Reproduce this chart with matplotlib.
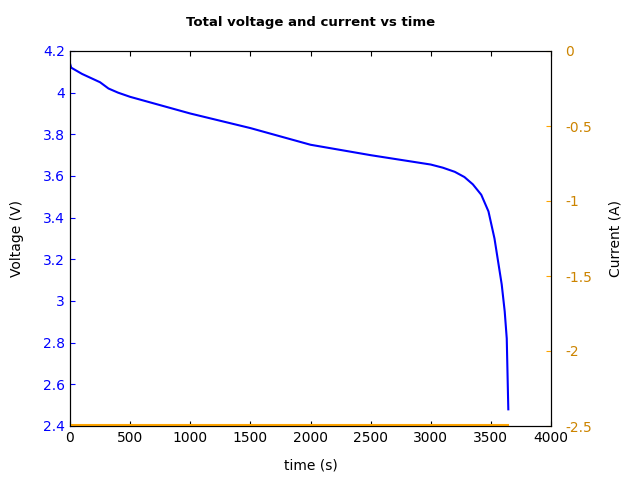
import matplotlib
matplotlib.use("Agg")
import matplotlib.pyplot as plt

time_s = [0, 10, 100, 250, 320, 400, 500, 750, 1000, 1500, 2000, 2500, 3000, 3100, 3200, 3280, 3350, 3420, 3480, 3530, 3590, 3615, 3632, 3645]
voltage = [4.14, 4.12, 4.09, 4.05, 4.02, 4.0, 3.98, 3.94, 3.90, 3.83, 3.75, 3.70, 3.655, 3.64, 3.62, 3.595, 3.56, 3.51, 3.43, 3.30, 3.08, 2.95, 2.82, 2.48]
cur_time = [0, 3645]
current = [-2.49, -2.49]

fig = plt.figure(figsize=(6.4, 4.8), dpi=100)
ax = fig.add_axes([70/640, 1-426/480, 481/640, 375/480])
ax.plot(time_s, voltage, color="blue", lw=1.5)
ax.set_xlim(0, 4000)
ax.set_ylim(2.4, 4.2)
ax.set_yticks([2.4, 2.6, 2.8, 3, 3.2, 3.4, 3.6, 3.8, 4, 4.2])
ax.set_yticklabels(["2.4", "2.6", "2.8", "3", "3.2", "3.4", "3.6", "3.8", "4", "4.2"])
ax.tick_params(axis="y", colors="blue", direction="in", labelcolor="blue")
ax.tick_params(axis="x", direction="in", top=True)
ax.set_xlabel("time (s)", labelpad=10)
ax.set_ylabel("Voltage (V)", labelpad=14)
ax.set_title("Total voltage and current vs time", fontweight="bold", fontsize=9.5, pad=18)

ax2 = ax.twinx()
ax2.plot(cur_time, current, color="orange", lw=1.5)
ax2.set_ylim(-2.5, 0)
ax2.set_yticks([-2.5, -2, -1.5, -1, -0.5, 0])
ax2.set_yticklabels(["-2.5", "-2", "-1.5", "-1", "-0.5", "0"])
ax2.tick_params(axis="y", direction="in", colors="orange", labelcolor="#cc8400", pad=10)
ax2.set_ylabel("Current (A)", labelpad=12)
fig.savefig("out.png", dpi=100)
